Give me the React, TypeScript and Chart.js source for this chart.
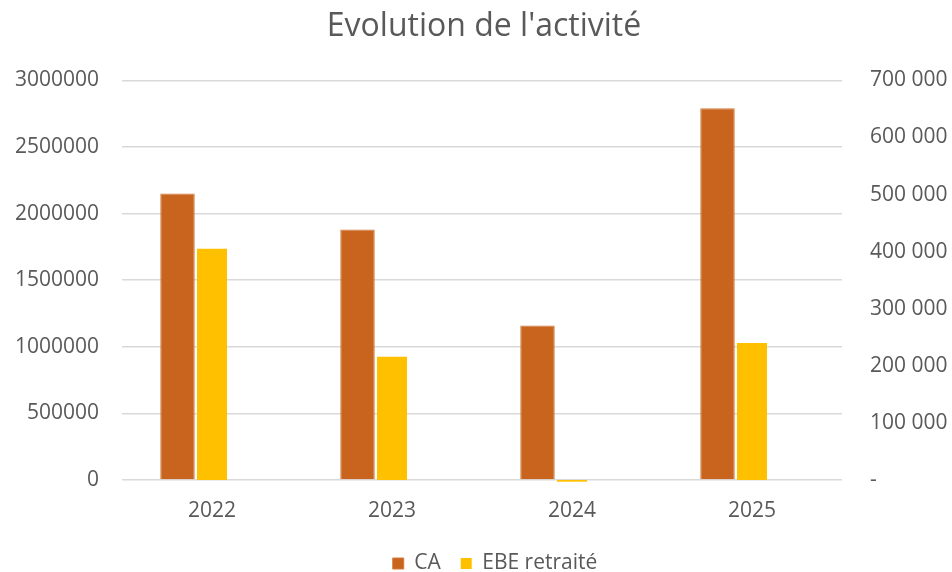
import React, { useEffect, useRef } from "react";
import { Chart, registerables } from "chart.js";

Chart.register(...registerables);

const years = ["2022", "2023", "2024", "2025"];
const caValues = [2150000, 1880000, 1160000, 2790000];
const ebeValues = [405000, 216000, -3000, 240000];
const emptySlot = [null, null, null, null];

const leftMax = 3000000;
const leftStep = 500000;
const rightMax = 700000;
const rightStep = 100000;

const FONT = "'Open Sans', 'Noto Sans', sans-serif";
const TEXT = "#595959";

const shiftBoxes = {
  id: "shiftBoxes",
  afterLayout(chart: any) {
    const lg = chart.legend;
    if (lg) {
      lg.left += 19;
      lg.right += 19;
    }
    const tt = chart.titleBlock;
    if (tt) {
      tt.left += 8;
      tt.right += 8;
    }
  },
};

export default function App() {
  const ref = useRef<HTMLCanvasElement | null>(null);
  useEffect(() => {
    if (!ref.current) return;
    const chart = new Chart(ref.current, {
      type: "bar",
      data: {
        labels: years,
        datasets: [
          {
            label: "CA",
            data: caValues,
            backgroundColor: "#C8641E",
            borderColor: "#D27A3C",
            borderWidth: 1,
            yAxisID: "y",
            barPercentage: 1.0,
            categoryPercentage: 0.575,
          },
          {
            label: "EBE retraité",
            data: ebeValues,
            backgroundColor: "#FFC000",
            yAxisID: "y1",
            barPercentage: 0.87,
            categoryPercentage: 0.575,
            clip: false as any,
          },
          {
            label: "",
            data: emptySlot as any,
            backgroundColor: "transparent",
            yAxisID: "y",
            barPercentage: 1.0,
            categoryPercentage: 0.575,
          },
        ],
      },
      plugins: [shiftBoxes],
      options: {
        animation: false,
        responsive: true,
        maintainAspectRatio: false,
        layout: { padding: { left: 0, right: 0, top: 0, bottom: -12 } },
        plugins: {
          title: {
            display: true,
            text: "Evolution de l'activité",
            color: TEXT,
            font: { family: FONT, size: 32, weight: "normal" },
            padding: { top: 8, bottom: 34 },
          },
          legend: {
            display: true,
            position: "bottom",
            labels: {
              color: TEXT,
              font: { family: FONT, size: 21 },
              boxWidth: 11,
              boxHeight: 11,
              padding: 20,
              filter: (item) => item.text !== "",
            },
          },
          tooltip: { enabled: false },
        },
        scales: {
          x: {
            grid: { display: false },
            border: { display: false },
            ticks: {
              color: TEXT,
              font: { family: FONT, size: 21 },
              padding: 10,
            },
            afterFit: (axis: any) => {
              axis.height = 53;
            },
          },
          y: {
            position: "left",
            min: 0,
            max: leftMax,
            grid: { color: "#D9D9D9", lineWidth: 1.5, drawTicks: false },
            border: { display: false },
            ticks: {
              stepSize: leftStep,
              color: TEXT,
              font: { family: FONT, size: 21 },
              padding: 23,
              callback: (v: any) => String(v),
            },
            afterFit: (axis: any) => {
              axis.width = 122;
            },
          },
          y1: {
            position: "right",
            min: 0,
            max: rightMax,
            grid: { display: false, drawTicks: false },
            border: { display: false },
            ticks: {
              stepSize: rightStep,
              color: TEXT,
              font: { family: FONT, size: 21 },
              padding: 28,
              callback: (v: any) =>
                Number(v) === 0
                  ? "-"
                  : String(v).replace(/\B(?=(\d{3})+(?!\d))/g, " "),
            },
            afterFit: (axis: any) => {
              axis.width = 110;
            },
          },
        },
      },
    });
    return () => chart.destroy();
  }, []);
  return (
    <div style={{ position: "fixed", left: 0, top: 0, width: 952, height: 572, background: "#fff" }}>
      <canvas ref={ref} />
    </div>
  );
}
